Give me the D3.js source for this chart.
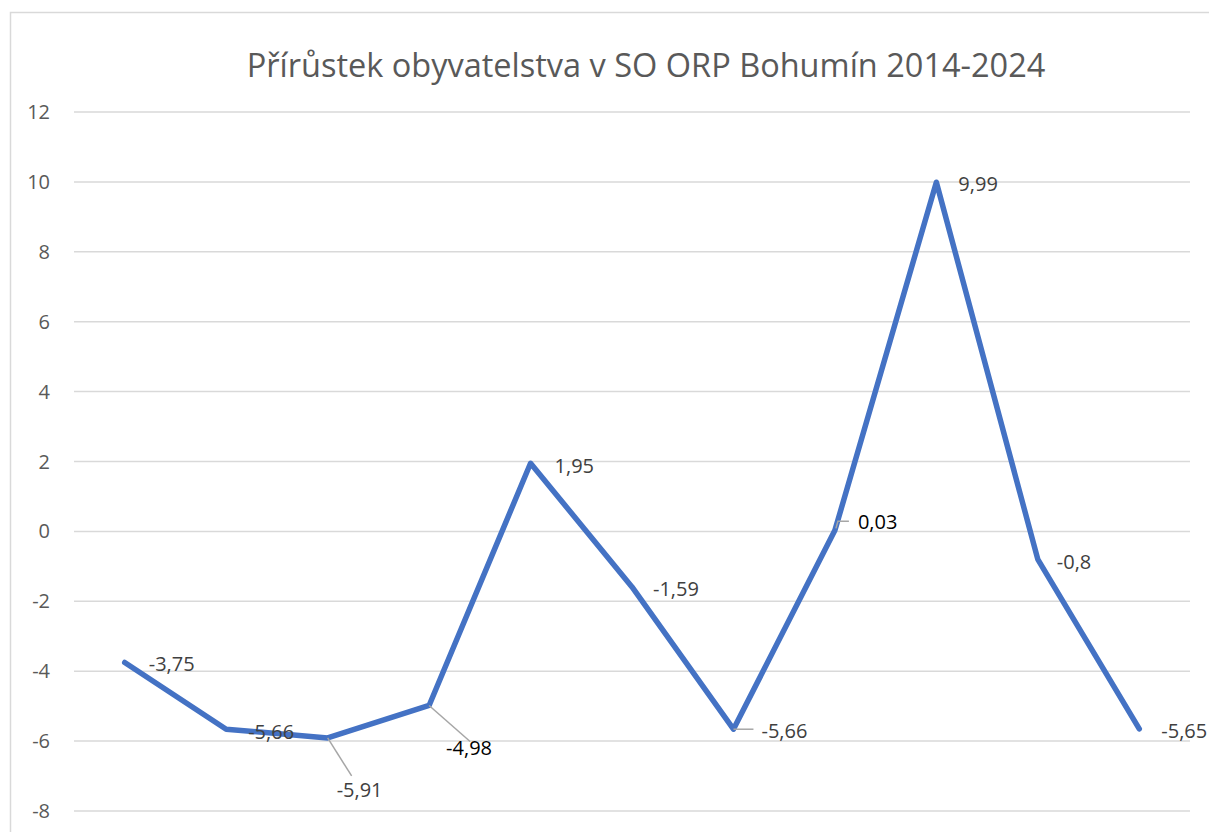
<!DOCTYPE html>
<html lang="cs">
	<head>
		<meta charset="utf-8">
		<title>Přírůstek obyvatelstva</title>
		<script src="https://cdn.jsdelivr.net/npm/d3@7"></script>
		<style>
			body { margin: 0; background: #fff; }
			text { font-family: "Open Sans", sans-serif; }
		</style>
	</head>
	<body>
		<script>
			// data
			var years = ["2014","2015","2016","2017","2018","2019","2020","2021","2022","2023","2024"]
			var values = [-3.75, -5.66, -5.91, -4.98, 1.95, -1.59, -5.66, 0.03, 9.99, -0.8, -5.65]
			var yTicks = [-8, -6, -4, -2, 0, 2, 4, 6, 8, 10, 12]
			var title = "Přírůstek obyvatelstva v SO ORP Bohumín 2014-2024"

			// label placement (offset of label from point, optional leader line end)
			var labelLayout = [
				{dx: 24, dy: 2},
				{dx: 22, dy: 3},
				{dx: 9, dy: 52, lead: [[0, 0], [24, 38]]},
				{dx: 17, dy: 43, lead: [[0, 0], [41, 36]], color: "#000"},
				{dx: 24, dy: 3},
				{dx: 21, dy: 2},
				{dx: 28, dy: 2, lead: [[0, 0], [20, 0]]},
				{dx: 23, dy: -8, lead: [[1, -2], [3, -9], [14, -9]], color: "#000"},
				{dx: 22, dy: 2},
				{dx: 19, dy: 3},
				{dx: 22, dy: 2}
			]

			var w = 1209, h = 832

			var svg = d3.select("body").append("svg").attr("width", w).attr("height", h)

			// chart frame
			svg.append("rect")
				.attr("x", 10.5).attr("y", 12.5)
				.attr("width", 1300).attr("height", 900)
				.attr("fill", "#fff")
				.attr("stroke", "#d9d9d9")
				.attr("stroke-width", 1.5)

			var x = d3.scalePoint()
				.domain(years)
				.range([74, 1190])
				.padding(0.5)

			var y = d3.scaleLinear()
				.domain([-8, 12])
				.range([811, 112])

			svg.append("text")
				.attr("x", 646).attr("y", 77)
				.attr("text-anchor", "middle")
				.attr("font-size", "32.5px")
				.attr("fill", "#595959")
				.text(title)

			// gridlines
			svg.selectAll(".grid")
				.data(yTicks)
				.enter()
				.append("line")
				.attr("class", "grid")
				.attr("x1", 74).attr("x2", 1190)
				.attr("y1", function(d) { return y(d) })
				.attr("y2", function(d) { return y(d) })
				.attr("stroke", "#d9d9d9")
				.attr("stroke-width", 1.5)

			svg.selectAll(".tick")
				.data(yTicks)
				.enter()
				.append("text")
				.attr("class", "tick")
				.attr("x", 50)
				.attr("y", function(d) { return y(d) })
				.attr("dy", "0.35em")
				.attr("text-anchor", "end")
				.attr("font-size", "20px")
				.attr("fill", "#595959")
				.text(function(d) { return d })

			var line = d3.line()
				.x(function(d, i) { return x(years[i]) })
				.y(function(d) { return y(d) })

			svg.append("path")
				.datum(values)
				.attr("d", line)
				.attr("fill", "none")
				.attr("stroke", "#4472c4")
				.attr("stroke-width", 5.5)
				.attr("stroke-linecap", "round")
				.attr("stroke-linejoin", "round")

			// leader lines
			values.forEach(function(v, i) {
				var L = labelLayout[i]
				if (!L.lead) return
				var px = x(years[i]), py = y(v)
				svg.append("polyline")
					.attr("points", L.lead.map(function(p) { return (px + p[0]) + "," + (py + p[1]) }).join(" "))
					.attr("fill", "none")
					.attr("stroke", "#a6a6a6")
					.attr("stroke-width", 1.5)
			})

			svg.selectAll(".lbl")
				.data(values)
				.enter()
				.append("text")
				.attr("class", "lbl")
				.attr("x", function(d, i) { return x(years[i]) + labelLayout[i].dx })
				.attr("y", function(d, i) { return y(d) + labelLayout[i].dy })
				.attr("dy", "0.35em")
				.attr("font-size", "20px")
				.attr("fill", function(d, i) { return labelLayout[i].color || "#404040" })
				.text(function(d) { return String(d).replace(".", ",") })
		</script>
	</body>
</html>
